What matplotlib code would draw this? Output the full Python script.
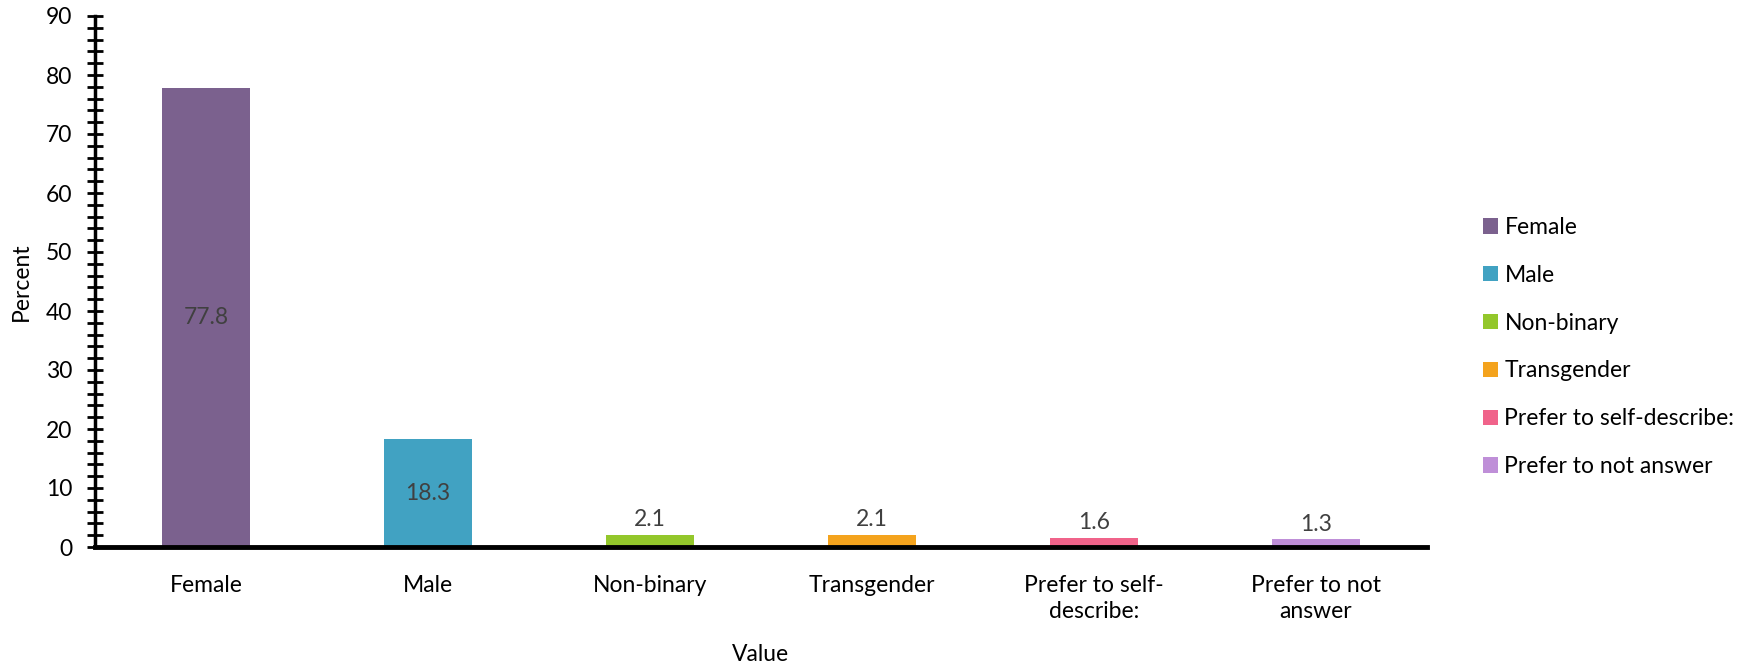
import matplotlib.pyplot as plt
from matplotlib.ticker import MultipleLocator
from matplotlib.patches import Patch

plt.rcParams['font.family'] = ['Lato', 'DejaVu Sans']

categories = ['Female', 'Male', 'Non-binary', 'Transgender',
              'Prefer to self-describe:', 'Prefer to not answer']
tick_labels = ['Female', 'Male', 'Non-binary', 'Transgender',
               'Prefer to self-\ndescribe:', 'Prefer to not\nanswer']
percent = [77.8, 18.3, 2.1, 2.1, 1.6, 1.3]
colors = ['#7B618E', '#41A2C2', '#93C72B', '#F4A31D', '#F0638A', '#BF8FD8']

FS = 16.5

fig = plt.figure(figsize=(17.54, 6.68), dpi=100)
ax = fig.add_axes([95 / 1754, 1 - 547 / 668, 1332 / 1754, 531 / 668])

x = list(range(len(categories)))
bars = ax.bar(x, percent, width=0.4, color=colors)

# big bars get the value inside, small ones above
for rect, val in zip(bars, percent):
    if val > 10:
        ax.text(rect.get_x() + rect.get_width() / 2, val / 2, f'{val:.1f}',
                ha='center', va='center', fontsize=FS, color='#404040')
    else:
        ax.annotate(f'{val:.1f}', (rect.get_x() + rect.get_width() / 2, val),
                    xytext=(0, 3), textcoords='offset points',
                    ha='center', va='bottom', fontsize=FS, color='#404040')

ax.set_xlim(-0.5, len(categories) - 0.5)
ax.set_ylim(0, 90)
ax.yaxis.set_major_locator(MultipleLocator(10))
ax.yaxis.set_minor_locator(MultipleLocator(2))
ax.tick_params(axis='y', which='both', direction='inout', length=11, width=2,
               labelsize=FS, pad=11)
ax.tick_params(axis='x', length=0, labelsize=FS, pad=20)
ax.set_xticks(x)
ax.set_xticklabels(tick_labels, linespacing=1.3)

for side in ['top', 'right']:
    ax.spines[side].set_visible(False)
ax.spines['left'].set_linewidth(2.5)
ax.spines['bottom'].set_linewidth(3.5)

ax.set_ylabel('Percent', fontsize=FS, labelpad=10)
ax.set_xlabel('Value', fontsize=FS, labelpad=16)

handles = [Patch(facecolor=c) for c in colors]
fig.legend(handles, categories, loc='center left',
           bbox_to_anchor=(1462 / 1754, 1 - 347 / 668), frameon=False,
           fontsize=FS, handlelength=0.65, handleheight=0.65,
           handletextpad=0.3, labelspacing=1.17)

fig.savefig('out.png', dpi=100)
